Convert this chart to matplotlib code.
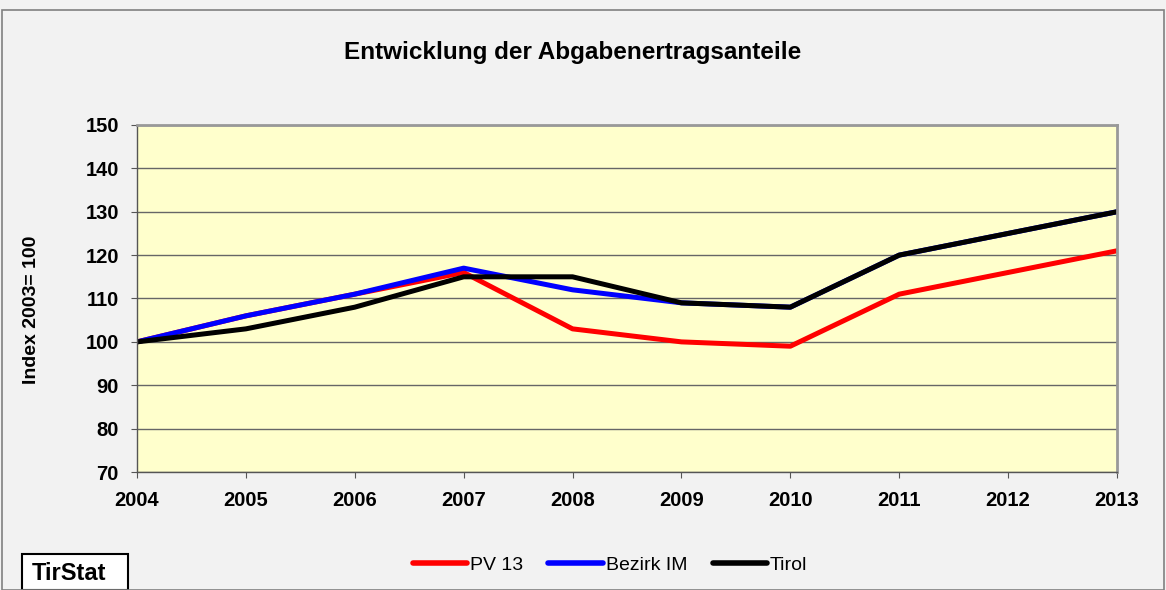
import matplotlib
matplotlib.use("Agg")
import matplotlib.pyplot as plt
from matplotlib.patches import Rectangle
from matplotlib.lines import Line2D

years = [2004, 2005, 2006, 2007, 2008, 2009, 2010, 2011, 2012, 2013]
pv13 = [100, 106, 111, 116, 103, 100, 99, 111, 116, 121]
bezirk_im = [100, 106, 111, 117, 112, 109, 108, 120, 125, 130]
tirol = [100, 103, 108, 115, 115, 109, 108, 120, 125, 130]
yticks = [70, 80, 90, 100, 110, 120, 130, 140, 150]

plt.rcParams['font.family'] = ['Liberation Sans', 'DejaVu Sans']

W, H = 1166, 590
fig = plt.figure(figsize=(W / 100, H / 100), dpi=100)
fig.patch.set_facecolor('#f2f2f2')
fig.patches.append(Rectangle((2 / W, 0), 1 - 4 / W, 1 - 10 / H, transform=fig.transFigure,
                             fill=False, edgecolor='#808080', linewidth=1.2))

ax = fig.add_axes([137 / W, 1 - 472 / H, (1117 - 137) / W, (472 - 125) / H])
ax.set_facecolor('#ffffcc')

ax.plot(years, pv13, color='#ff0000', linewidth=3.6, label='PV 13', solid_capstyle='round')
ax.plot(years, bezirk_im, color='#0000ff', linewidth=3.6, label='Bezirk IM', solid_capstyle='round')
ax.plot(years, tirol, color='#000000', linewidth=3.6, label='Tirol', solid_capstyle='round')

ax.set_xlim(years[0], years[-1])
ax.set_ylim(yticks[0], yticks[-1])
ax.set_yticks(yticks)
ax.set_xticks(years)
ax.set_xticklabels([str(y) for y in years], fontweight='bold', fontsize=14.5)
ax.set_yticklabels([str(v) for v in yticks], fontweight='bold', fontsize=14.5)
ax.yaxis.grid(True, color='#666666', linewidth=1.0)
ax.set_axisbelow(True)
ax.tick_params(axis='y', direction='out', length=4, color='#555555', pad=9)
ax.tick_params(axis='x', direction='out', length=4, color='#555555', pad=10)
for s in ['left', 'bottom']:
    ax.spines[s].set_color('#555555')
    ax.spines[s].set_linewidth(1.0)
for s in ['right', 'top']:
    ax.spines[s].set_color('#999999')
    ax.spines[s].set_linewidth(2.0)

ax.set_ylabel('Index 2003= 100', fontweight='bold', fontsize=14)
ax.yaxis.set_label_coords((40 - 137) / 980, (472 - 310) / 347)

fig.text(573 / W, 1 - 59 / H, 'Entwicklung der Abgabenertragsanteile',
         ha='center', va='baseline', fontsize=17.5, fontweight='bold')

handles = [Line2D([0], [0], color='#ff0000', linewidth=4, solid_capstyle='round'),
           Line2D([0], [0], color='#0000ff', linewidth=4, solid_capstyle='round'),
           Line2D([0], [0], color='#000000', linewidth=4, solid_capstyle='round')]
fig.legend(handles, ['PV 13', 'Bezirk IM', 'Tirol'], loc='center', bbox_to_anchor=(610 / W, 1 - 565 / H),
           ncol=3, frameon=False, fontsize=14, handlelength=2.8, handletextpad=0.15,
           columnspacing=1.3, borderpad=0.2)

fig.text(32 / W, 1 - 580 / H, 'TirStat', ha='left', va='baseline', fontsize=17, fontweight='bold')
fig.patches.append(Rectangle((22 / W, 0), (128 - 22) / W, (H - 554) / H, transform=fig.transFigure,
                             facecolor='white', edgecolor='black', linewidth=1.5, zorder=0))

fig.savefig('out.png', dpi=100, facecolor=fig.get_facecolor())
